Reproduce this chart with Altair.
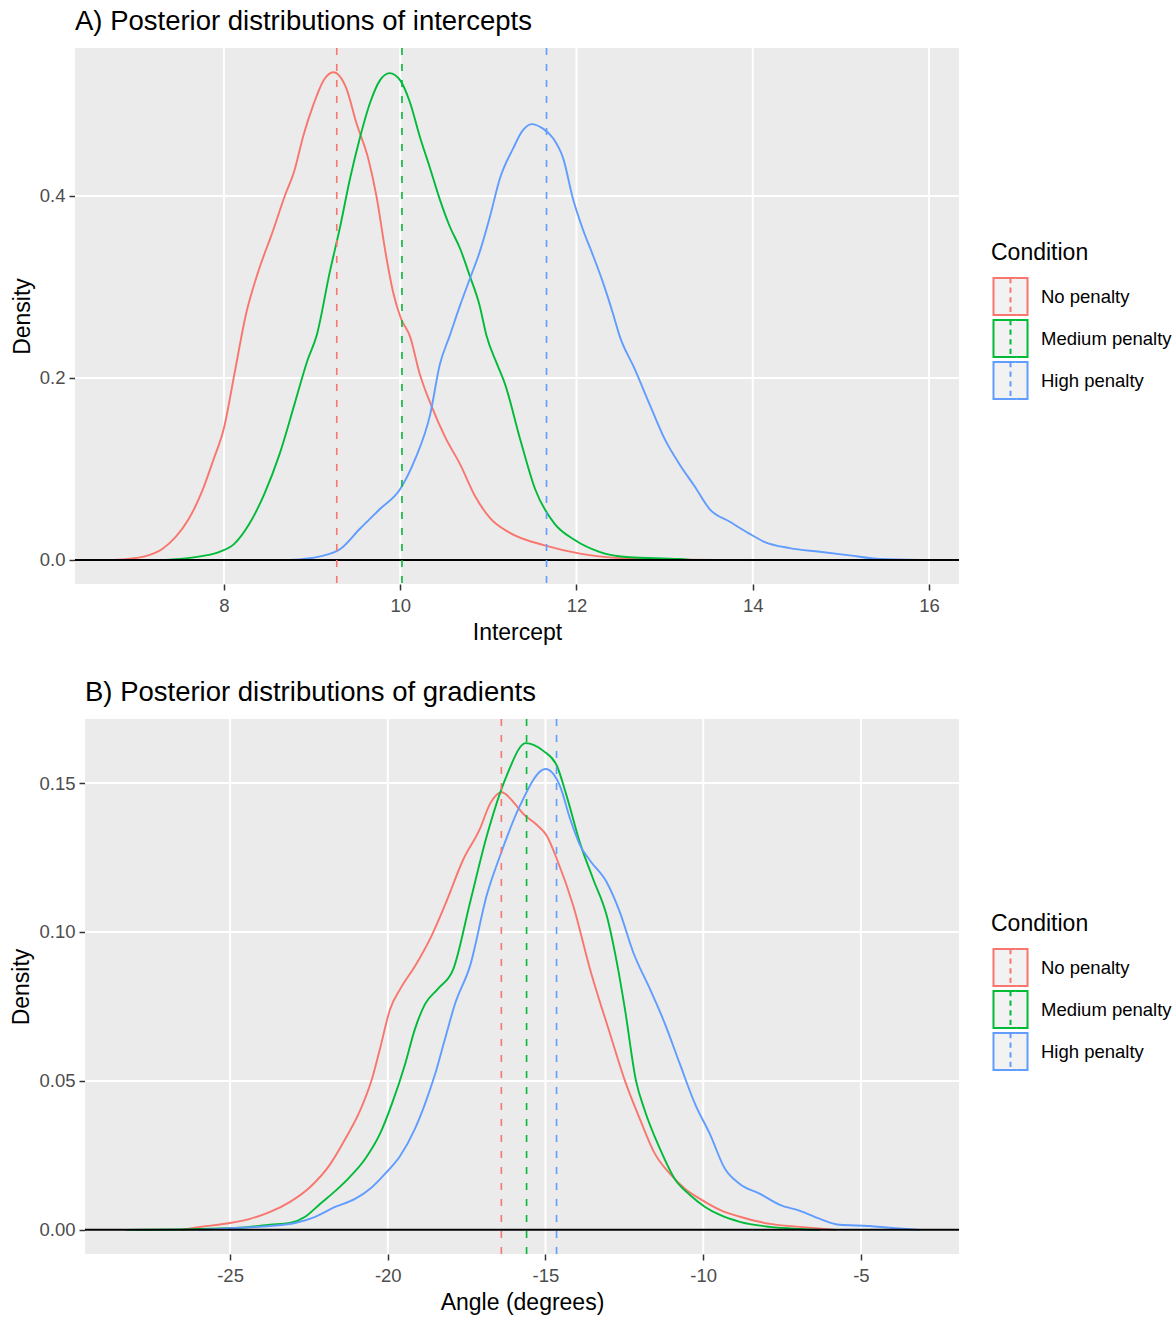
import altair as alt
import pandas as pd

CONDITIONS = ["No penalty", "Medium penalty", "High penalty"]
COLORS = ["#F8766D", "#00BA38", "#619CFF"]

# ---- Panel A: intercepts (density curves) ----
A_NP_X = [6.75, 7.1, 7.3, 7.45, 7.6, 7.75, 7.88, 8.0, 8.12, 8.25, 8.4, 8.55, 8.69, 8.8, 8.9, 9.01,
          9.13, 9.24, 9.39, 9.5, 9.64, 9.73, 9.84, 9.92, 10.01, 10.11, 10.22, 10.36, 10.51, 10.68,
          10.85, 11.02, 11.24, 11.64, 12.04, 12.49, 13.0, 13.6]
A_NP_Y = [0.0, 0.004, 0.012, 0.025, 0.045, 0.075, 0.11, 0.145, 0.205, 0.27, 0.32, 0.36, 0.40, 0.428,
          0.466, 0.499, 0.527, 0.536, 0.518, 0.481, 0.44, 0.40, 0.334, 0.294, 0.265, 0.246, 0.205,
          0.168, 0.135, 0.105, 0.07, 0.046, 0.03, 0.016, 0.007, 0.002, 0.0005, 0.0]

A_MP_X = [7.34, 7.73, 7.95, 8.12, 8.29, 8.46, 8.63, 8.8, 8.95, 9.05, 9.2, 9.32, 9.43, 9.54, 9.66,
          9.77, 9.88, 10.0, 10.11, 10.22, 10.34, 10.45, 10.56, 10.68, 10.79, 10.9, 10.98, 11.1,
          11.19, 11.36, 11.53, 11.75, 11.98, 12.26, 12.6, 13.17, 13.3]
A_MP_Y = [0.0, 0.004, 0.009, 0.018, 0.04, 0.073, 0.116, 0.171, 0.22, 0.246, 0.316, 0.367, 0.419,
          0.463, 0.503, 0.527, 0.535, 0.527, 0.503, 0.466, 0.43, 0.396, 0.367, 0.342, 0.312, 0.28,
          0.246, 0.215, 0.193, 0.133, 0.078, 0.04, 0.022, 0.009, 0.003, 0.001, 0.0]

A_HP_X = [8.75, 9.09, 9.32, 9.54, 9.77, 10.0, 10.17, 10.34, 10.45, 10.56, 10.68, 10.79, 10.9, 11.02,
          11.13, 11.28, 11.39, 11.49, 11.62, 11.73, 11.85, 11.96, 12.07, 12.19, 12.3, 12.41, 12.49,
          12.66, 12.83, 13.0, 13.17, 13.34, 13.51, 13.74, 13.96, 14.13, 14.42, 14.76, 15.1, 15.44, 15.9]
A_HP_Y = [0.0, 0.004, 0.012, 0.034, 0.056, 0.078, 0.111, 0.16, 0.215, 0.246, 0.28, 0.309, 0.338,
          0.378, 0.419, 0.452, 0.472, 0.479, 0.474, 0.464, 0.441, 0.397, 0.364, 0.334, 0.305, 0.272,
          0.246, 0.21, 0.171, 0.133, 0.105, 0.081, 0.056, 0.042, 0.029, 0.02, 0.013, 0.009, 0.005,
          0.001, 0.0]

A_MEANS = [9.28, 10.02, 11.66]

# ---- Panel B: gradients ----
B_NP_X = [-26.55, -25.95, -25.0, -24.37, -23.73, -23.1, -22.46, -21.83, -21.35, -20.88, -20.5, -20.25,
          -19.93, -19.6, -19.14, -18.66, -18.19, -17.6, -17.08, -16.76, -16.39, -15.97, -15.7, -15.28,
          -14.96, -14.64, -14.12, -13.59, -12.96, -12.48, -12.0, -11.53, -11.05, -10.58, -10.1, -9.47,
          -8.84, -7.88, -6.93, -5.8]
B_NP_Y = [0.0, 0.001, 0.0023, 0.0037, 0.006, 0.0094, 0.0144, 0.022, 0.0305, 0.04, 0.0507, 0.0607,
          0.074, 0.081, 0.0885, 0.0977, 0.109, 0.1245, 0.1346, 0.143, 0.1469, 0.143, 0.1396, 0.136,
          0.1323, 0.1245, 0.1088, 0.0876, 0.066, 0.05, 0.037, 0.0255, 0.0188, 0.0138, 0.0104, 0.0067,
          0.0044, 0.002, 0.001, 0.0]

B_MP_X = [-28.3, -25.95, -24.68, -23.73, -23.1, -22.62, -22.15, -21.67, -21.2, -20.72, -20.25, -19.87,
          -19.45, -19.14, -18.82, -18.41, -17.92, -17.39, -16.86, -16.23, -15.63, -15.07, -14.64,
          -14.33, -13.91, -13.49, -13.06, -12.7, -12.48, -12.13, -11.85, -11.37, -10.9, -10.42, -9.94,
          -9.47, -8.84, -7.88, -6.93, -6.3]
B_MP_Y = [0.0, 0.0003, 0.0007, 0.0017, 0.0023, 0.0044, 0.0087, 0.013, 0.0178, 0.0238, 0.0322, 0.0423,
          0.0557, 0.0674, 0.0758, 0.0809, 0.0876, 0.11, 0.1323, 0.1525, 0.1634, 0.1608, 0.1558,
          0.1457, 0.13, 0.1178, 0.1055, 0.0876, 0.074, 0.05, 0.04, 0.0272, 0.0171, 0.0117, 0.0077,
          0.005, 0.0027, 0.001, 0.0003, 0.0]

B_HP_X = [-26.0, -24.68, -23.73, -22.94, -22.3, -21.67, -21.04, -20.56, -20.09, -19.61, -19.14, -18.82,
          -18.5, -18.19, -17.87, -17.39, -16.85, -16.44, -15.81, -15.0, -14.54, -14.22, -13.9, -13.59,
          -13.06, -12.64, -12.22, -11.69, -11.21, -10.74, -10.26, -9.79, -9.31, -8.84, -8.2, -7.57,
          -6.93, -6.3, -5.67, -4.72, -4.08, -3.13]
B_HP_Y = [0.0, 0.0007, 0.0013, 0.0023, 0.0044, 0.0077, 0.0104, 0.0138, 0.0188, 0.0248, 0.0339, 0.0423,
          0.0523, 0.064, 0.0758, 0.0887, 0.1128, 0.1256, 0.1424, 0.1547, 0.149, 0.138, 0.129, 0.124,
          0.1167, 0.1066, 0.0932, 0.0809, 0.0691, 0.0557, 0.0423, 0.0322, 0.0205, 0.0154, 0.0121,
          0.0084, 0.0064, 0.0037, 0.0017, 0.0013, 0.0007, 0.0]

B_MEANS = [-16.4, -15.6, -14.65]

A_XTICKS = [8, 10, 12, 14, 16]
A_YTICKS = [0.0, 0.2, 0.4]
B_XTICKS = [-25, -20, -15, -10, -5]
B_YTICKS = [0.0, 0.05, 0.10, 0.15]

FONT = "Liberation Sans"
PANEL_BG = "#EBEBEB"
# legend key: box outline with a dashed vertical line in the middle
KEY_PATH = ("M-0.92,-1H0.92V1H-0.92Z"
            "M0,-1V-0.72M0,-0.48V-0.2M0,0.04V0.32M0,0.56V0.84")


def curves(xs_list, ys_list):
    rows = []
    for cond, xs, ys in zip(CONDITIONS, xs_list, ys_list):
        for i, (x, y) in enumerate(zip(xs, ys)):
            rows.append({"Condition": cond, "x": x, "y": y, "order": i})
    return pd.DataFrame(rows)


def panel(df, means, title, xtitle, xdom, ydom, xvals, yvals, yfmt, width, height, inset):
    xscale = alt.Scale(domain=xdom, range=[inset, width], nice=False, zero=False)
    yscale = alt.Scale(domain=ydom, nice=False, zero=False)
    xaxis = alt.Axis(values=xvals, title=xtitle, labelExpr="'' + datum.value")
    yaxis = alt.Axis(values=yvals, title="Density", offset=-inset,
                     labelExpr=f"format(datum.value, '{yfmt}')")

    def X(field=None, datum=None):
        if field is not None:
            return alt.X(field, type="quantitative", scale=xscale, axis=xaxis)
        return alt.X(datum=datum, type="quantitative", scale=xscale, axis=xaxis)

    def Y(field=None, datum=None):
        if field is not None:
            return alt.Y(field, type="quantitative", scale=yscale, axis=yaxis)
        return alt.Y(datum=datum, type="quantitative", scale=yscale, axis=yaxis)

    color = alt.Color(
        "Condition:N",
        scale=alt.Scale(domain=CONDITIONS, range=COLORS),
        legend=alt.Legend(
            title="Condition", orient="none", legendX=width + 32, legendY=194,
            symbolType=KEY_PATH, symbolSize=1369, symbolStrokeWidth=2,
            symbolFillColor="#F2F2F2", symbolDash=[1, 0], symbolOpacity=1,
            titleFontSize=23, titleFont=FONT, titleFontWeight="normal", titleColor="black",
            titlePadding=12, labelFontSize=18.5, labelFont=FONT, labelColor="black",
            labelOffset=11, rowPadding=-7,
        ),
    )
    one = pd.DataFrame({"k": [0]})
    bg = alt.Chart(one).mark_rect(color=PANEL_BG).encode(
        x=X(datum=xdom[0]), x2=alt.X2(datum=xdom[1]),
        y=Y(datum=ydom[0]), y2=alt.Y2(datum=ydom[1]))
    xgrid = alt.Chart(pd.DataFrame({"v": xvals})).mark_rule(color="white", strokeWidth=2).encode(
        x=X("v"))
    ygrid = alt.Chart(pd.DataFrame({"v": yvals})).mark_rule(color="white", strokeWidth=2).encode(
        y=Y("v"), x=X(datum=xdom[0]), x2=alt.X2(datum=xdom[1]))
    lines = alt.Chart(df).mark_line(strokeWidth=1.9, interpolate="monotone", clip=True).encode(
        x=X("x"), y=Y("y"), color=color, detail="Condition:N", order="order:Q")
    hline = alt.Chart(one).mark_rule(color="black", strokeWidth=2).encode(
        y=Y(datum=0.0), x=X(datum=xdom[0]), x2=alt.X2(datum=xdom[1]))
    mdf = pd.DataFrame({"Condition": CONDITIONS, "x": means})
    vlines = alt.Chart(mdf).mark_rule(strokeDash=[7, 9], strokeWidth=1.6).encode(
        x=X("x"), color=color)
    return alt.layer(bg, xgrid, ygrid, lines, hline, vlines).properties(
        width=width, height=height,
        title=alt.TitleParams(title, anchor="start", frame="group", dx=inset, fontSize=27.5,
                              font=FONT, fontWeight="normal", color="black", offset=-10,
                              baseline="alphabetic"),
    ).resolve_scale(color="shared")


dfA = curves([A_NP_X, A_MP_X, A_HP_X], [A_NP_Y, A_MP_Y, A_HP_Y])
dfB = curves([B_NP_X, B_MP_X, B_HP_X], [B_NP_Y, B_MP_Y, B_HP_Y])

panelA = panel(dfA, A_MEANS, "A) Posterior distributions of intercepts", "Intercept",
               [6.31, 16.34], [-0.0264, 0.5626], A_XTICKS, A_YTICKS, ".1f", 884, 536, 0)
panelB = panel(dfB, B_MEANS, "B) Posterior distributions of gradients", "Angle (degrees)",
               [-29.6, -1.89], [-0.0081, 0.1715], B_XTICKS, B_YTICKS, ".2f", 884, 535, 10)

chart = alt.vconcat(panelA, panelB, spacing=33).resolve_scale(
    color="independent", x="independent", y="independent"
).resolve_legend(color="independent").properties(
    padding={"left": 10, "top": 7, "right": 0, "bottom": 0},
    background="white",
).configure_view(
    fill=None, stroke=None
).configure_axis(
    grid=False, domain=False,
    tickColor="#333333", tickSize=6, tickWidth=1.5,
    labelColor="#4D4D4D", labelFont=FONT, labelFontSize=18.5, labelPadding=4,
    titleFont=FONT, titleFontSize=23, titleFontWeight="normal", titleColor="black",
).configure_axisY(
    titlePadding=5
).configure_axisX(
    titlePadding=7, labelPadding=6
)

chart.save("out.html", embed_options={"renderer": "svg", "actions": False})
